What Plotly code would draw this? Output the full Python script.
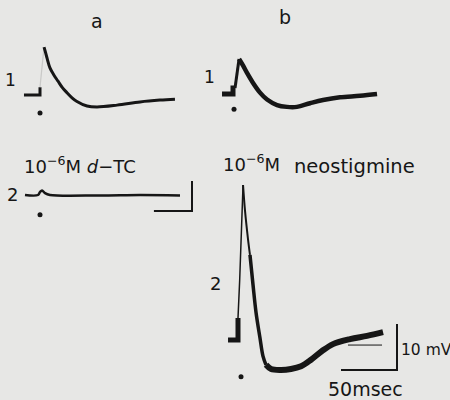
import plotly.graph_objects as go

# ---- calibration (pixels per unit on the reproduced record) ----
PX_PER_MS = 1.12
PX_PER_MV = 4.6
W, H = 450, 400
INK = "#161616"
BG = "#e7e7e5"

# ---- data: time (ms from stimulus) and potential (mV from resting baseline) ----
# a1: control endplate potential
a1_base_t = [-14.3, 0, 0]
a1_base_v = [0, 0, 1.7]
a1_rise_t = [0, 3.6]
a1_rise_v = [1.7, 10.4]
a1_decay_t = [3.6, 5.0, 6.3, 8.9, 12.5, 16.1, 20.0, 24.1, 28.6, 33.0, 42.0, 50.9, 68.8, 89.3, 107.1, 120.5]
a1_decay_v = [10.4, 9.2, 8.0, 5.9, 4.3, 3.0, 1.6, 0.5, -0.6, -1.4, -2.4, -2.6, -2.2, -1.5, -1.1, -0.9]

# b1: control endplate potential
b1_base_t = [-9.8, 0, 0, 1.8]
b1_base_v = [0, 0, 1.3, 1.3]
b1_rise_t = [1.8, 5.4]
b1_rise_v = [1.3, 7.6]
b1_decay_t = [5.4, 8.9, 12.5, 17.9, 24.1, 30.4, 39.3, 48.2, 57.1, 68.8, 80.4, 95.5, 113.4, 128.6]
b1_decay_v = [7.6, 6.2, 4.6, 2.4, 0.3, -1.2, -2.4, -2.8, -2.8, -2.0, -1.3, -0.7, -0.4, 0.0]

# a2: 10^-6 M d-TC
a2_t = [-13.4, -1.8, 0, 1.8, 4.5, 8.9, 53.6, 89.3, 125.0]
a2_v = [0, 0, 0.65, 1.0, 0.4, 0, -0.1, 0, -0.1]

# b2: 10^-6 M neostigmine
b2_base_t = [-8.9, 0, 0]
b2_base_v = [0, 0, 4.8]
b2_rise_t = [0, 1.5, 4.5]
b2_rise_v = [4.8, 13.0, 33.7]
b2_peak_t = [4.5, 6.3, 8.9, 10.7]
b2_peak_v = [33.7, 28.0, 22.0, 18.5]
b2_fall_t = [10.7, 13.4, 16.1, 19.6, 22.3, 25.0]
b2_fall_v = [18.5, 12.0, 6.0, 0.5, -3.5, -5.4]
b2_tail_t = [25.0, 29.5, 38.4, 47.3, 56.3, 65.2, 75.0, 84.8, 100.0, 115.2, 129.5]
b2_tail_v = [-5.4, -6.3, -6.5, -6.3, -5.7, -4.3, -2.4, -0.9, 0.2, 0.9, 1.7]
b2_thin_t = [98.2, 128.6]
b2_thin_v = [-1.1, -1.1]

# stimulus marks (time, potential relative to each record)
dot_t = {"a1": 0.0, "b1": 0.9, "a2": 0.0, "b2": 2.7}
dot_v = {"a1": -3.9, "b1": -3.3, "a2": -4.3, "b2": -8.0}

# calibration bars
cal_b_ms, cal_b_mv = 50, 10
cal_a_ms, cal_a_mv = 34, 6.5

# ---- layout positions (pixel location of each record's stimulus / baseline) ----
ORIGIN = {"a1": (40, 95), "b1": (233, 94), "a2": (40, 195), "b2": (238, 340)}
CAL_CORNER = {"a": (192, 211), "b": (397, 370)}


def ux(px):
    return px / PX_PER_MS


def uy(py):
    return (H - py) / PX_PER_MV


fig = go.Figure()


def add(key, t, v, width, color=INK, shape="linear"):
    ox, oy = ORIGIN[key]
    fig.add_trace(go.Scatter(
        x=[ux(ox) + ti for ti in t], y=[uy(oy) + vi for vi in v],
        mode="lines", line=dict(color=color, width=width, shape=shape),
        hoverinfo="skip", showlegend=False))


add("a1", a1_base_t, a1_base_v, 3)
add("a1", a1_rise_t, a1_rise_v, 1.2, color="#c9c9c7")
add("a1", a1_decay_t, a1_decay_v, 3, shape="spline")

add("b1", b1_base_t, b1_base_v, 5)
add("b1", b1_rise_t, b1_rise_v, 3)
add("b1", b1_decay_t, b1_decay_v, 4.5, shape="spline")

add("a2", a2_t, a2_v, 2.5, shape="spline")

add("b2", b2_base_t, b2_base_v, 5)
add("b2", b2_rise_t, b2_rise_v, 1.5)
add("b2", b2_peak_t, b2_peak_v, 2, shape="spline")
add("b2", b2_fall_t, b2_fall_v, 3.5, shape="spline")
add("b2", b2_tail_t, b2_tail_v, 6, shape="spline")
add("b2", b2_thin_t, b2_thin_v, 1)

# stimulus dots
keys = ["a1", "b1", "a2", "b2"]
fig.add_trace(go.Scatter(
    x=[ux(ORIGIN[k][0]) + dot_t[k] for k in keys],
    y=[uy(ORIGIN[k][1]) + dot_v[k] for k in keys],
    mode="markers", marker=dict(color=INK, size=5),
    hoverinfo="skip", showlegend=False))

# calibration bars
for name, ms, mv in [("a", cal_a_ms, cal_a_mv), ("b", cal_b_ms, cal_b_mv)]:
    cx, cy = ux(CAL_CORNER[name][0]), uy(CAL_CORNER[name][1])
    fig.add_trace(go.Scatter(
        x=[cx - ms, cx, cx], y=[cy, cy, cy + mv],
        mode="lines", line=dict(color=INK, width=2),
        hoverinfo="skip", showlegend=False))

FONT = "DejaVu Sans"


def label(text, px, py, size=18, xanchor="center"):
    fig.add_annotation(x=px / W, y=1 - py / H, xref="paper", yref="paper",
                       text=text, showarrow=False, xanchor=xanchor, yanchor="middle",
                       font=dict(family=FONT, size=size, color=INK))


label("a", 97, 21, 19)
label("b", 285, 17, 19)
label("1", 10, 80, 17)
label("1", 209, 77, 17)
label("2", 12, 194, 18)
label("2", 215, 283, 18)
label("10<sup>−6</sup>M <i>d</i>−TC", 22, 165, 18, xanchor="left")
label("10<sup>−6</sup>M", 221, 163, 18, xanchor="left")
label("neostigmine", 292, 166, 19.5, xanchor="left")
label("10 mV", 399, 350, 15.5, xanchor="left")
label("50msec", 365, 389, 19)

fig.update_xaxes(range=[0, ux(W)], visible=False, fixedrange=True)
fig.update_yaxes(range=[0, uy(0)], visible=False, fixedrange=True)
fig.update_layout(width=W, height=H, margin=dict(l=0, r=0, t=0, b=0),
                  paper_bgcolor=BG, plot_bgcolor=BG)

fig.write_html("out.html", config={"displayModeBar": False},
               post_script="document.body.style.margin='0';document.body.style.overflow='hidden';")
